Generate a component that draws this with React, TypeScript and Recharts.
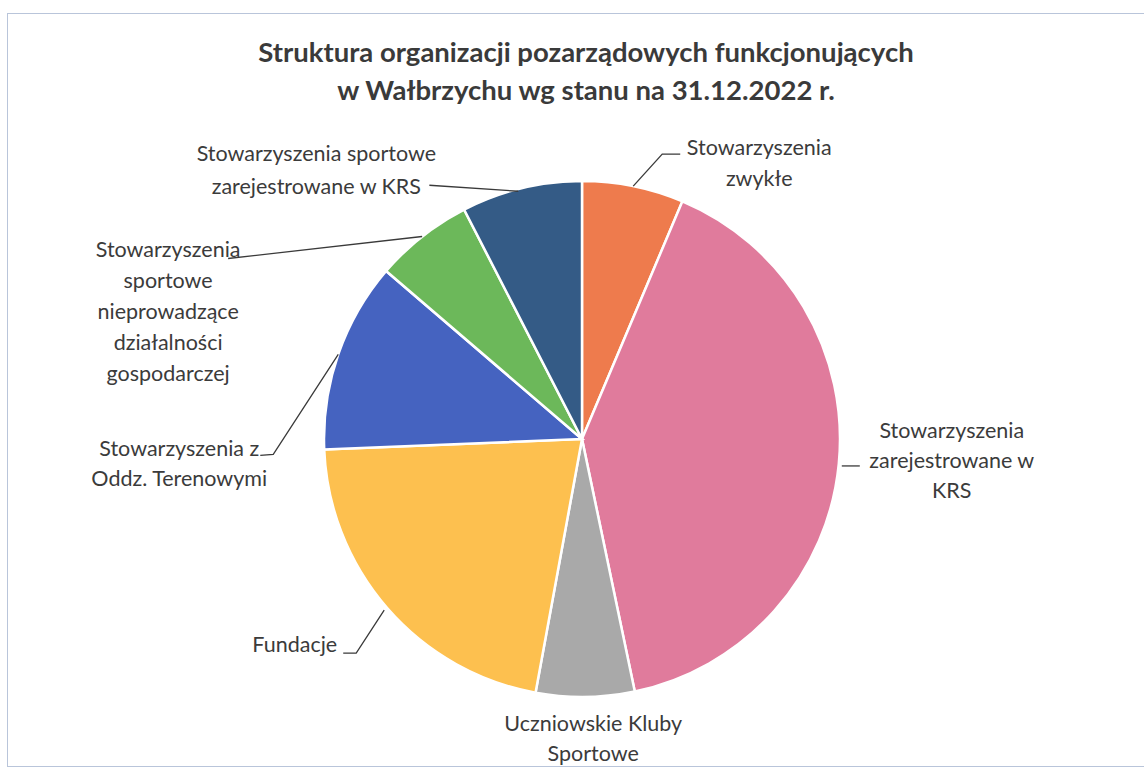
import { PieChart, Pie, Cell } from 'recharts';

const categories = [
  'Stowarzyszenia zwykłe',
  'Stowarzyszenia zarejestrowane w KRS',
  'Uczniowskie Kluby Sportowe',
  'Fundacje',
  'Stowarzyszenia z Oddz. Terenowymi',
  'Stowarzyszenia sportowe nieprowadzące działalności gospodarczej',
  'Stowarzyszenia sportowe zarejestrowane w KRS',
];

// estimated counts
const counts = [32, 203, 31, 108, 60, 31, 38];

// how each label wraps in the original
const labelLines = [
  ['Stowarzyszenia', 'zwykłe'],
  ['Stowarzyszenia', 'zarejestrowane w', 'KRS'],
  ['Uczniowskie Kluby', 'Sportowe'],
  ['Fundacje'],
  ['Stowarzyszenia z', 'Oddz. Terenowymi'],
  ['Stowarzyszenia', 'sportowe', 'nieprowadzące', 'działalności', 'gospodarczej'],
  ['Stowarzyszenia sportowe', 'zarejestrowane w KRS'],
];

const colors = ['#EE7B4D', '#E07B9C', '#A9A9A9', '#FDC04F', '#4563C0', '#6CB85A', '#345B86'];

// label placement, offsets from the slice edge point at its mid angle
const labelLayout: { leader: [number, number][]; dx: number; dy: number; anchor: 'start' | 'middle' | 'end'; lh: number }[] = [
  { leader: [[0, 0], [29, -32], [47, -32]], dx: 126, dy: -39, anchor: 'middle', lh: 31 },
  { leader: [[3, 2], [21, 2]], dx: 113, dy: -34, anchor: 'middle', lh: 30 },
  { leader: [], dx: 8, dy: 26, anchor: 'middle', lh: 30 },
  { leader: [[-3, 2], [-31, 45], [-44, 45]], dx: -50, dy: 36, anchor: 'end', lh: 30 },
  { leader: [[0, 0], [-65, 100], [-78, 101]], dx: -159, dy: 94, anchor: 'middle', lh: 30 },
  { leader: [[0, 0], [-194, 22]], dx: -254, dy: 12, anchor: 'middle', lh: 31 },
  { leader: [[-3, 3], [-92, -3]], dx: -205, dy: -35, anchor: 'middle', lh: 33 },
];

const data = categories.map((name, i) => ({ name, value: counts[i] }));

const RADIAN = Math.PI / 180;
const FONT = 'Lato, "Open Sans", sans-serif';

function renderLabel(props: any) {
  const { cx, cy, midAngle, outerRadius, index } = props;
  const ex = cx + outerRadius * Math.cos(-midAngle * RADIAN);
  const ey = cy + outerRadius * Math.sin(-midAngle * RADIAN);
  const lay = labelLayout[index];
  const lines = labelLines[index];
  const pts = lay.leader.map(([x, y]) => `${ex + x},${ey + y}`).join(' ');
  return (
    <g key={`lbl-${index}`}>
      {lay.leader.length > 0 && (
        <polyline points={pts} fill="none" stroke="#3a3a3a" strokeWidth={1.3} />
      )}
      <text
        x={ex + lay.dx}
        y={ey + lay.dy}
        textAnchor={lay.anchor}
        fill="#3b3b3b"
        fontSize={21.5}
        fontFamily={FONT}
      >
        {lines.map((ln, k) => (
          <tspan key={k} x={ex + lay.dx} y={ey + lay.dy + k * lay.lh} dominantBaseline="central">
            {ln}
          </tspan>
        ))}
      </text>
    </g>
  );
}

export default function App() {
  return (
    <div style={{ position: 'absolute', left: 0, top: 0, width: 1144, height: 771, background: '#fff' }}>
      <div
        style={{
          position: 'absolute',
          left: 7,
          top: 13,
          width: 1150,
          height: 754,
          border: '1.5px solid #b9c5da',
          boxSizing: 'border-box',
        }}
      />
      <div
        style={{
          position: 'absolute',
          left: 0,
          top: 33,
          width: 1172,
          textAlign: 'center',
          fontFamily: FONT,
          fontWeight: 700,
          fontSize: 27.5,
          lineHeight: '38px',
          color: '#3a3a3a',
        }}
      >
        Struktura organizacji pozarządowych funkcjonujących
        <br />w Wałbrzychu wg stanu na 31.12.2022 r.
      </div>
      <PieChart
        width={1144}
        height={771}
        margin={{ top: 0, right: 0, bottom: 0, left: 0 }}
        style={{ position: 'absolute', left: 0, top: 0 }}
      >
        <Pie
          data={data}
          dataKey="value"
          nameKey="name"
          cx={582}
          cy={439}
          outerRadius={258}
          startAngle={90}
          endAngle={-270}
          stroke="#ffffff"
          strokeWidth={2.5}
          label={renderLabel}
          labelLine={false}
          isAnimationActive={false}
        >
          {data.map((d, i) => (
            <Cell key={d.name} fill={colors[i]} />
          ))}
        </Pie>
      </PieChart>
    </div>
  );
}
